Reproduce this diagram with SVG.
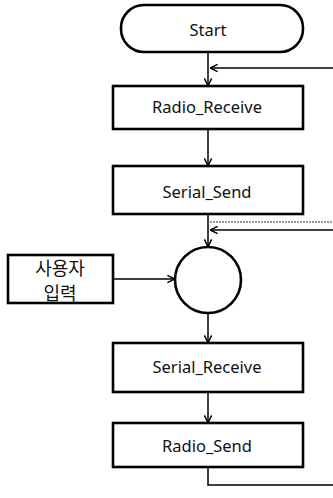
<svg xmlns="http://www.w3.org/2000/svg" width="333" height="498" viewBox="0 0 333 498">
<style>
.box{fill:#fff;stroke:#000;stroke-width:2.6}
.lbl{font-family:"Noto Sans","Liberation Sans",sans-serif;font-size:16.5px;fill:#111;text-anchor:middle}
.ko{font-family:"Noto Sans CJK KR","Noto Sans",sans-serif;font-size:18px;fill:#111;text-anchor:middle}
.con{fill:none;stroke:#000;stroke-width:1.5}
</style>
<defs>
<marker id="arr" viewBox="0 0 10 10" refX="9.5" refY="5" markerWidth="9" markerHeight="9" markerUnits="userSpaceOnUse" orient="auto">
<path d="M1,1 L9.5,5 L1,9" fill="none" stroke="#000" stroke-width="1.6"/>
</marker>
</defs>
<rect width="333" height="498" fill="#fff"/>
<g id="connectors">
<line class="con" x1="208" y1="52" x2="208" y2="86" marker-end="url(#arr)"/>
<line class="con" x1="340" y1="68" x2="210" y2="68" marker-end="url(#arr)"/>
<line class="con" x1="208" y1="129" x2="208" y2="166" marker-end="url(#arr)"/>
<line class="con" x1="208" y1="214" x2="208" y2="247" marker-end="url(#arr)"/>
<line x1="210" y1="222" x2="333" y2="222" stroke="#777" stroke-width="1.3" stroke-dasharray="2,1"/>
<line class="con" x1="340" y1="230" x2="210" y2="230" marker-end="url(#arr)"/>
<line class="con" x1="113" y1="279" x2="175" y2="279" marker-end="url(#arr)"/>
<line class="con" x1="208" y1="313" x2="208" y2="343" marker-end="url(#arr)"/>
<line class="con" x1="208" y1="392" x2="208" y2="423" marker-end="url(#arr)"/>
<polyline class="con" points="208,467 208,485 340,485"/>
</g>
<g id="start">
<rect class="box" x="121" y="5" width="182" height="47" rx="23" ry="23"/>
<text class="lbl" x="208" y="36">Start</text>
</g>
<g id="radio_receive">
<rect class="box" x="113" y="86" width="190" height="43"/>
<text class="lbl" x="207" y="113">Radio_Receive</text>
</g>
<g id="serial_send">
<rect class="box" x="113" y="166" width="190" height="48"/>
<text class="lbl" x="207" y="198">Serial_Send</text>
</g>
<g id="user_input">
<rect class="box" x="8" y="255" width="105" height="48"/>
<text class="ko" x="60" y="275">사용자</text>
<text class="ko" x="60" y="300">입력</text>
</g>
<g id="junction">
<circle class="box" cx="208" cy="280" r="33"/>
</g>
<g id="serial_receive">
<rect class="box" x="113" y="343" width="190" height="49"/>
<text class="lbl" x="207" y="373">Serial_Receive</text>
</g>
<g id="radio_send">
<rect class="box" x="113" y="423" width="190" height="44"/>
<text class="lbl" x="207" y="452">Radio_Send</text>
</g>
</svg>
